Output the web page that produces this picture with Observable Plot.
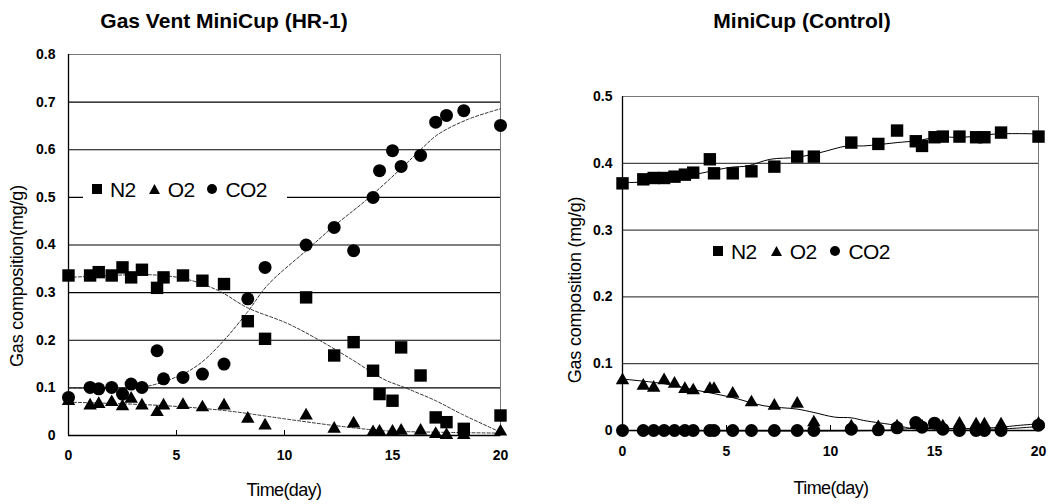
<!DOCTYPE html>
<html><head><meta charset="utf-8">
<script src="https://cdn.jsdelivr.net/npm/d3@7"></script>
<script src="https://cdn.jsdelivr.net/npm/@observablehq/plot@0.6"></script>
<style>
body{margin:0;background:#fff;}
#root{position:relative;width:1060px;height:504px;overflow:hidden;font-family:"Liberation Sans",Arial,sans-serif;color:#000;background:#fff;}
#root svg.plot{position:absolute;top:0;}
.abs{position:absolute;white-space:nowrap;line-height:1;}
.title{font-weight:bold;font-size:21px;transform:translate(-50%,-50%);}
.xlab{font-size:18px;letter-spacing:-0.6px;transform:translate(-50%,-50%);}
.ylab{font-size:18px;letter-spacing:-0.2px;transform:translate(-50%,-50%) rotate(-90deg);}
.legend{display:flex;align-items:center;font-size:21px;height:24px;transform:translateY(-50%);z-index:5;}
.legend svg{display:block;}
</style></head><body><div id="root"></div>
<script>
// ---------- data ----------
const seriesNames = ["N2", "O2", "CO2"];
const xTicks = [0, 5, 10, 15, 20];

// Left panel: Gas Vent MiniCup (HR-1)
const leftTitle = "Gas Vent MiniCup (HR-1)";
const leftDays = [0, 1, 1.4, 2, 2.5, 2.9, 3.4, 4.1, 4.4, 5.3, 6.2, 7.2, 8.3, 9.1, 11, 12.3, 13.2, 14.1, 14.4, 15, 15.4, 16.3, 17, 17.5, 18.3, 20];
const leftN2  = [0.336, 0.336, 0.343, 0.336, 0.353, 0.332, 0.348, 0.31, 0.332, 0.336, 0.325, 0.318, 0.24, 0.203, 0.29, 0.168, 0.196, 0.136, 0.087, 0.073, 0.185, 0.126, 0.038, 0.028, 0.014, 0.042];
const leftO2  = [0.072, 0.063, 0.066, 0.07, 0.061, 0.077, 0.063, 0.049, 0.063, 0.064, 0.059, 0.063, 0.035, 0.021, 0.042, 0.014, 0.025, 0.007, 0.008, 0.008, 0.01, 0.01, 0.003, 0.001, 0.001, 0.008];
const leftCO2 = [0.08, 0.101, 0.098, 0.101, 0.087, 0.108, 0.101, 0.178, 0.119, 0.122, 0.129, 0.15, 0.287, 0.353, 0.4, 0.437, 0.388, 0.5, 0.556, 0.598, 0.565, 0.588, 0.658, 0.672, 0.682, 0.651];
const leftFitN2Days  = [0, 2, 3.5, 5.3, 6.9, 8.3, 10.1, 11.5, 13.1, 14.6, 15.6, 17, 18.2, 20];
const leftFitN2      = [0.332, 0.336, 0.338, 0.33, 0.305, 0.268, 0.236, 0.203, 0.16, 0.118, 0.1, 0.073, 0.045, 0.007];
const leftFitO2Days  = [0, 4.3, 7.3, 10, 12.3, 14.6, 17, 20];
const leftFitO2      = [0.07, 0.063, 0.052, 0.035, 0.021, 0.01, 0.007, 0.005];
const leftFitCO2Days = [0, 2, 3.5, 5, 6, 7, 8.3, 9.2, 11, 12.3, 13.8, 15.5, 16.3, 17.1, 18.5, 20];
const leftFitCO2     = [0.1, 0.099, 0.102, 0.123, 0.148, 0.19, 0.26, 0.315, 0.388, 0.44, 0.495, 0.565, 0.6, 0.632, 0.664, 0.686];
const leftYTicks = [0, 0.1, 0.2, 0.3, 0.4, 0.5, 0.6, 0.7, 0.8];
const leftGrid = [0.1, 0.2, 0.3, 0.4, 0.5, 0.6, 0.7];

// Right panel: MiniCup (Control)
const rightTitle = "MiniCup (Control)";
const rightDays = [0, 1, 1.5, 2, 2.5, 3, 3.4, 4.2, 4.4, 5.3, 6.2, 7.3, 8.4, 9.2, 11, 12.3, 13.2, 14.1, 14.4, 15, 15.4, 16.2, 17, 17.4, 18.2, 20];
const rightN2  = [0.37, 0.376, 0.378, 0.378, 0.38, 0.383, 0.386, 0.406, 0.385, 0.385, 0.388, 0.395, 0.41, 0.41, 0.431, 0.429, 0.449, 0.433, 0.426, 0.439, 0.44, 0.44, 0.439, 0.439, 0.446, 0.44];
const rightO2  = [0.075, 0.067, 0.064, 0.075, 0.07, 0.062, 0.06, 0.062, 0.062, 0.055, 0.042, 0.037, 0.04, 0.012, 0.006, 0.005, 0.006, 0.008, 0.006, 0.008, 0.006, 0.01, 0.009, 0.009, 0.009, 0.01];
const rightCO2 = [0, 0, 0, 0, 0, 0, 0, 0, 0, 0, 0, 0, 0, 0, 0.002, 0.001, 0.004, 0.012, 0.005, 0.011, 0.002, 0, 0, 0, 0, 0.008];
const rightFitN2Days  = [0, 2, 3.6, 5.2, 6, 7.1, 8.4, 9.5, 10.8, 11.6, 13.2, 14.2, 15.1, 16.4, 18, 20];
const rightFitN2      = [0.371, 0.374, 0.384, 0.394, 0.396, 0.406, 0.409, 0.416, 0.426, 0.426, 0.431, 0.434, 0.439, 0.439, 0.444, 0.444];
const rightFitO2Days  = [0, 2, 3.6, 5.2, 6.8, 8.4, 9.2, 10.2, 11, 11.6, 13.2, 14, 15, 16.6, 18.2, 19, 20];
const rightFitO2      = [0.077, 0.07, 0.06, 0.05, 0.037, 0.032, 0.027, 0.02, 0.019, 0.015, 0.0075, 0.0025, 0.0025, 0.0025, 0.005, 0.0075, 0.01];
const rightFitCO2Days = [0, 12.3, 14, 16, 18, 20];
const rightFitCO2     = [0, 0, 0.003, 0.003, 0.002, 0.006];
const rightYTicks = [0, 0.1, 0.2, 0.3, 0.4, 0.5];
const rightGrid = [0.1, 0.2, 0.3, 0.4];

// ---------- build ----------
const root = document.getElementById("root");
const fmt = d => d === 0 ? "0" : d3.format(".1f")(d);
const rows = (days, vals, s) => days.map((d, i) => ({day: d, v: vals[i], s}));

function panel(o) {
  const innerH = o.height - o.mt - o.mb;
  const pts = [].concat(rows(o.days, o.n2, "N2"), rows(o.days, o.o2, "O2"), rows(o.days, o.co2, "CO2"));
  const fitStyle = o.dashed ? {stroke: "#333", strokeWidth: 1, strokeDasharray: "3,2"} : {stroke: "#000", strokeWidth: 1};
  const svg = Plot.plot({
    width: o.width, height: o.height,
    marginTop: o.mt, marginRight: o.mr, marginBottom: o.mb, marginLeft: o.ml,
    style: {fontFamily: "'Liberation Sans', Arial, sans-serif", fontSize: "14px", fontWeight: "bold", background: "transparent", overflow: "visible"},
    x: {domain: [0, 20]},
    y: {domain: [0, o.yMax]},
    symbol: {domain: seriesNames, range: ["square", "triangle", "circle"]},
    marks: [
      Plot.frame({stroke: "#777", strokeWidth: 1}),
      Plot.ruleY(o.grid, {stroke: "#000", strokeWidth: o.gridW}),
      Plot.ruleY([0], {stroke: "#000", strokeWidth: 1.3}),
      Plot.ruleX([0], {stroke: "#000", strokeWidth: 1.3}),
      Plot.ruleX([5, 10, 15], {stroke: "#000", insetTop: innerH - 5}),
      Plot.axisY({ticks: o.yTicks, tickSize: 0, tickPadding: o.yPad, tickFormat: fmt, label: null}),
      Plot.axisX({ticks: xTicks, tickSize: 0, tickPadding: o.xPad, tickFormat: d => String(d), label: null}),
      Plot.line(rows(o.fitN2Days, o.fitN2, "N2"), {x: "day", y: "v", curve: "catmull-rom", ...fitStyle}),
      Plot.line(rows(o.fitO2Days, o.fitO2, "O2"), {x: "day", y: "v", curve: "catmull-rom", ...fitStyle}),
      Plot.line(rows(o.fitCO2Days, o.fitCO2, "CO2"), {x: "day", y: "v", curve: "catmull-rom", ...fitStyle}),
      Plot.dot(pts.filter(d => d.s === "O2"), {x: "day", y: "v", symbol: "s", fill: "#000", r: 5}),
      Plot.dot(pts.filter(d => d.s === "N2"), {x: "day", y: "v", symbol: "s", fill: "#000", r: 7}),
      Plot.dot(pts.filter(d => d.s === "CO2"), {x: "day", y: "v", symbol: "s", fill: "#000", r: 6.5})
    ]
  });
  svg.classList.add("plot");
  svg.style.position = "absolute";
  svg.style.left = o.left + "px";
  svg.style.top = "0px";
  root.appendChild(svg);
}

panel({left: 0, width: 530, height: 504, mt: 54, mr: 30, mb: 69, ml: 68, yMax: 0.8,
  days: leftDays, n2: leftN2, o2: leftO2, co2: leftCO2,
  fitN2Days: leftFitN2Days, fitN2: leftFitN2, fitO2Days: leftFitO2Days, fitO2: leftFitO2,
  fitCO2Days: leftFitCO2Days, fitCO2: leftFitCO2,
  yTicks: leftYTicks, grid: leftGrid, gridW: 1.2, dashed: true, yPad: 13, xPad: 15});

panel({left: 530, width: 530, height: 504, mt: 96, mr: 22, mb: 74, ml: 92, yMax: 0.5,
  days: rightDays, n2: rightN2, o2: rightO2, co2: rightCO2,
  fitN2Days: rightFitN2Days, fitN2: rightFitN2, fitO2Days: rightFitO2Days, fitO2: rightFitO2,
  fitCO2Days: rightFitCO2Days, fitCO2: rightFitCO2,
  yTicks: rightYTicks, grid: rightGrid, gridW: 0.9, dashed: false, yPad: 10, xPad: 16});

// ---------- text ----------
function addText(cls, txt, x, y) {
  const d = document.createElement("div");
  d.className = "abs " + cls;
  d.textContent = txt;
  d.style.left = x + "px";
  d.style.top = y + "px";
  root.appendChild(d);
}
addText("title", leftTitle, 224, 20);
addText("title", rightTitle, 802, 20);
addText("xlab", "Time(day)", 284, 490);
addText("xlab", "Time(day)", 831, 488);
addText("ylab", "Gas composition(mg/g)", 17, 276);
addText("ylab", "Gas composition (mg/g)", 575, 290);

// ---------- legends ----------
const symbolSvg = {
  N2: '<svg width="10" height="10"><rect x="0" y="0" width="10" height="10" fill="#000"/></svg>',
  O2: '<svg width="11" height="10"><path d="M5.5,0L11,10L0,10Z" fill="#000"/></svg>',
  CO2: '<svg width="10" height="10"><circle cx="5" cy="5" r="5" fill="#000"/></svg>'
};
function legend(x, y, w, bg, gaps) {
  const d = document.createElement("div");
  d.className = "abs legend";
  d.style.left = x + "px";
  d.style.top = y + "px";
  if (w) d.style.width = w + "px";
  if (bg) d.style.background = "#fff";
  d.style.paddingLeft = gaps[0] + "px";
  seriesNames.forEach((s, i) => {
    const sym = document.createElement("span");
    sym.innerHTML = symbolSvg[s];
    sym.style.marginLeft = (i === 0 ? 0 : gaps[2]) + "px";
    const t = document.createElement("span");
    t.textContent = s;
    t.style.marginLeft = gaps[1] + "px";
    t.style.letterSpacing = "-0.6px";
    d.appendChild(sym);
    d.appendChild(t);
  });
  root.appendChild(d);
}
legend(83, 189, 195, true, [9, 8, 13]);
legend(713, 251, null, false, [0, 8, 14]);
</script></body></html>
